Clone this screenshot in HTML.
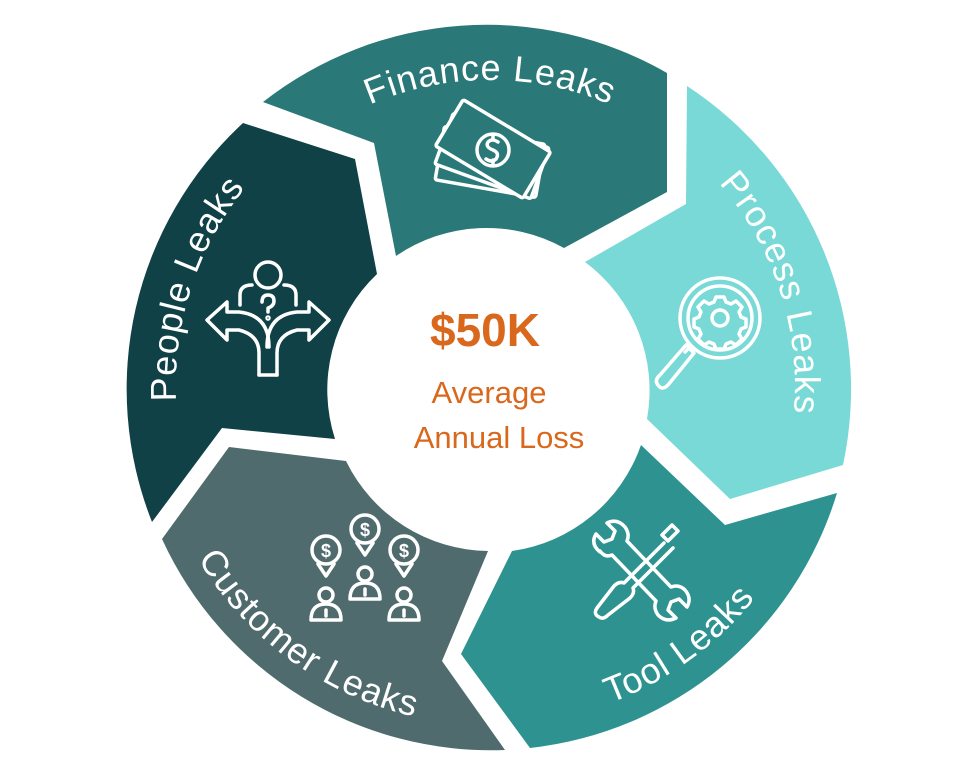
<!DOCTYPE html>
<html><head><meta charset="utf-8"><style>
html,body{margin:0;padding:0;background:#fff;}
svg{display:block;}
.lbl{font-family:"Liberation Sans",sans-serif;font-size:36px;fill:#fff;letter-spacing:1px;}
.ic{fill:none;stroke:#fff;stroke-width:3.5;stroke-linejoin:round;stroke-linecap:round;}
</style></head><body>
<svg width="980" height="759" viewBox="0 0 980 759" xmlns="http://www.w3.org/2000/svg">
<defs>
<path id="pF" d="M185,385 A305,305 0 0 1 795,385"/>
<path id="pP" d="M394.8,92.1 A308,308 0 0 1 585.2,677.9"/>
<path id="pPe" d="M391.7,687.4 A318,318 0 0 1 588.3,82.6"/>
<path id="pT" d="M214.9,584.9 A340,340 0 0 0 765.1,185.1"/>
<path id="pC" d="M214.9,185.1 A340,340 0 0 0 765.1,584.9"/>
</defs>
<path fill="#2a7878" d="M263,102 A362,362 0 0 1 667,73 L667,192 L564,248 A160,160 0 0 0 396,256 L374,143 Z"/>
<path fill="#78d9d6" d="M687,86 A362,362 0 0 1 843,465 L730,499 L647,419 A160,160 0 0 0 585,262 L686,204 Z"/>
<path fill="#2e9390" d="M837,493 A362,362 0 0 1 530,748 L461,654 L512,551 A160,160 0 0 0 641,445 L725,525 Z"/>
<path fill="#4f6b6d" d="M505,750 A362,362 0 0 1 162,539 L229,447 L346,461 A160,160 0 0 0 488,551 L442,661 Z"/>
<path fill="#0f4147" d="M152,522 A362,362 0 0 1 243,123 L355,159 L377,274 A160,160 0 0 0 335,439 L222,428 Z"/>

<text class="lbl"><textPath href="#pF" startOffset="50%" text-anchor="middle">Finance Leaks</textPath></text>
<text class="lbl"><textPath href="#pP" startOffset="50%" text-anchor="middle">Process Leaks</textPath></text>
<text class="lbl"><textPath href="#pPe" startOffset="50%" text-anchor="middle">People Leaks</textPath></text>
<text class="lbl"><textPath href="#pT" startOffset="50%" text-anchor="middle">Tool Leaks</textPath></text>
<text class="lbl"><textPath href="#pC" startOffset="50%" text-anchor="middle">Customer Leaks</textPath></text>

<!-- center -->
<text x="485" y="346" text-anchor="middle" font-family="Liberation Sans,sans-serif" font-weight="bold" font-size="46" fill="#d9681c">$50K</text>
<text x="489" y="403" text-anchor="middle" font-family="Liberation Sans,sans-serif" font-size="31" fill="#d9681c">Average</text>
<text x="499" y="448" text-anchor="middle" font-family="Liberation Sans,sans-serif" font-size="31" fill="#d9681c">Annual Loss</text>

<!-- finance icon: bills -->
<g class="ic">
<rect x="-51" y="-27" width="102" height="54" rx="2" transform="translate(490,162) rotate(10)" fill="#2a7878"/>
<rect x="-51" y="-27" width="102" height="54" rx="2" transform="translate(492,156) rotate(20)" fill="#2a7878"/>
<rect x="-51" y="-27" width="102" height="54" rx="2" transform="translate(493,149) rotate(31)" fill="#2a7878"/>
<circle cx="493" cy="150" r="16"/>
<path d="M498,142 q-6,-4 -10,0 q-3,5 5,8 q7,3 3,9 q-4,4 -10,0 M493,136 v4 M493,160 v4"/>
</g>
<!-- people icon -->
<g class="ic">
<circle cx="268" cy="275" r="13"/>
<path d="M240,305 v-10 q0,-10 12,-10 M296,305 v-10 q0,-10 -12,-10"/>
<path d="M262,302 q0,-7 6,-7 q6,0 6,6 q0,5 -6,7 v4"/><circle cx="268" cy="318" r="1" />
<path d="M259,375 v-22 q0,-18 -20,-23 h-12 v10 l-20,-20 20,-18 v10 h12 q30,3 30,35"/>
<path d="M277,375 v-22 q0,-18 20,-23 h12 v10 l20,-20 -20,-18 v10 h-12 q-30,3 -30,35"/>
<line x1="259" y1="375" x2="277" y2="375"/>
</g>
<!-- process icon -->
<g class="ic">
<circle cx="720" cy="318" r="40"/>
<circle cx="720" cy="318" r="32"/>
<circle cx="720" cy="318" r="8"/>
<path d="M716,297 h8 l2,5 5,2 5,-3 6,6 -3,5 2,5 5,2 v8 l-5,2 -2,5 3,5 -6,6 -5,-3 -5,2 -2,5 h-8 l-2,-5 -5,-2 -5,3 -6,-6 3,-5 -2,-5 -5,-2 v-8 l5,-2 2,-5 -3,-5 6,-6 5,3 5,-2 z"/>
<path d="M691,346 l-6,6 M686,345 l8,8 -26,32 q-6,6 -10,0 q-4,-5 2,-10 z"/>
</g>
<!-- tool icon -->
<g class="ic">
<path d="M600,552 q-10,-8 -4,-18 l8,8 8,-3 3,-8 -8,-8 q10,-5 18,4 q5,7 2,14 l44,46 q8,-3 14,3 q7,8 2,17 l-8,-8 -8,3 -3,8 8,8 q-10,5 -18,-3 q-5,-7 -2,-14 l-44,-46 q-7,3 -12,-4 z"/>
<path d="M662,535 l10,-10 6,6 -10,10 z M664,543 l-40,40 q-5,-2 -10,3 l-17,22 q-4,6 2,9 q4,3 9,-2 l22,-17 q5,-5 3,-10 l40,-40"/>
</g>
<!-- customer icon -->
<g class="ic">
<circle cx="326" cy="550" r="14"/><path d="M318,564 l8,12 8,-12"/>
<circle cx="365" cy="529" r="14"/><path d="M357,543 l8,12 8,-12"/>
<circle cx="404" cy="550" r="14"/><path d="M396,564 l8,12 8,-12"/>
<text x="326" y="557" text-anchor="middle" font-family="Liberation Sans,sans-serif" font-size="18" font-weight="bold" fill="#fff" stroke="none">$</text>
<text x="365" y="536" text-anchor="middle" font-family="Liberation Sans,sans-serif" font-size="18" font-weight="bold" fill="#fff" stroke="none">$</text>
<text x="404" y="557" text-anchor="middle" font-family="Liberation Sans,sans-serif" font-size="18" font-weight="bold" fill="#fff" stroke="none">$</text>
<circle cx="326" cy="595" r="7"/><path d="M311,620 q0,-16 15,-16 q15,0 15,16 z M326,610 v6"/>
<circle cx="365" cy="574" r="7"/><path d="M350,599 q0,-16 15,-16 q15,0 15,16 z M365,589 v6"/>
<circle cx="404" cy="595" r="7"/><path d="M389,620 q0,-16 15,-16 q15,0 15,16 z M404,610 v6"/>
</g>
</svg>
</body></html>
